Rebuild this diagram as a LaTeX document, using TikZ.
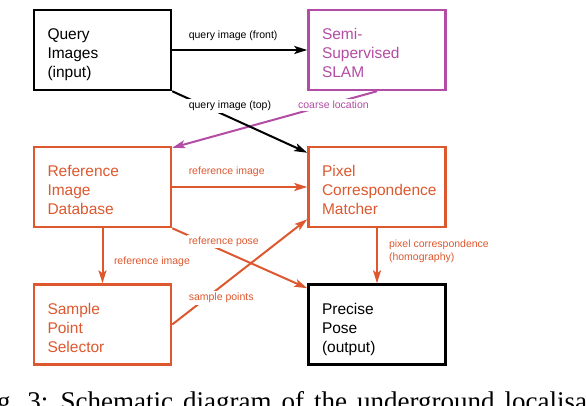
\documentclass[tikz,border=0pt]{standalone}
\usepackage{fontspec}
\setmainfont{Liberation Sans}
\newfontfamily\captionserif{Liberation Serif}
\usepackage{tikz}
\usetikzlibrary{shapes,arrows.meta,positioning}
\usepackage{xcolor}
\definecolor{orangecustom}{RGB}{221,88,46}
\definecolor{magentacustom}{RGB}{178,76,164}

\tikzset{
    blockbox/.style={draw=#1, text=#1, rectangle, line width=2.5pt, minimum width=137pt, minimum height=80pt,
        text width=110pt, inner xsep=13.5pt, align=left, font=\fontsize{15.5}{19}\selectfont,
        execute at begin node={\hyphenpenalty=10000\rule{0pt}{22pt}},
        execute at end node={\rule[-4pt]{0pt}{4pt}}},
    edgelabel/.style={text=#1, fill=white, inner sep=2pt, anchor=west, font=\fontsize{10.5}{13}\selectfont},
    flowarrow/.style={draw=#1, line width=2pt, -{Stealth[length=13pt,width=8pt,inset=3pt]}}
}

\begin{document}
\begin{tikzpicture}[x=1pt, y=1pt]
    \useasboundingbox (0,0) rectangle (586,406);
    \clip (0,0) rectangle (586,406);

    % blocks
    \node[blockbox=black] (query) at (102.5,356) {Query\\Images\\(input)};
    \node[blockbox=magentacustom, right=135pt of query] (slam) {Semi-\\Supervised\\SLAM};
    \node[blockbox=orangecustom, below=54.5pt of query] (refdb) {Reference\\Image\\Database};
    \node[blockbox=orangecustom, below=54.5pt of slam] (matcher) {Pixel\\Correspondence\\Matcher};
    \node[blockbox=orangecustom, below=55pt of refdb] (sampler) {Sample\\Point\\Selector};
    \node[blockbox=black, below=55pt of matcher] (pose) {Precise\\Pose\\(output)};

    % connectors
    \draw[flowarrow=black] (query.east) -- (slam.west)
        node[edgelabel=black, pos=0.1, yshift=14pt] {query image (front)};
    \draw[flowarrow=magentacustom] (slam.south) -- ([yshift=-2pt]refdb.north east)
        node[edgelabel=magentacustom, pos=0.4, yshift=9pt] {coarse location};
    \draw[flowarrow=black] (query.south east) -- ([yshift=-7pt]matcher.north west)
        node[edgelabel=black, pos=0.1, yshift=-8.6pt] {query image (top)};
    \draw[flowarrow=orangecustom] (refdb.east) -- (matcher.west)
        node[edgelabel=orangecustom, pos=0.1, yshift=15pt] {reference image};
    \draw[flowarrow=orangecustom] (refdb.south east) -- ([yshift=-5pt]pose.north west)
        node[edgelabel=orangecustom, pos=0.1, yshift=-7.3pt] {reference pose};
    \draw[flowarrow=orangecustom] (sampler.east) -- ([yshift=9pt]matcher.south west)
        node[edgelabel=orangecustom, pos=0.1, yshift=16pt] {sample points};
    \draw[flowarrow=orangecustom] (refdb.south) -- (sampler.north)
        node[edgelabel=orangecustom, midway, xshift=8.5pt, yshift=-6pt] {reference image};
    \draw[flowarrow=orangecustom] (matcher.south) -- (pose.north)
        node[edgelabel=orangecustom, midway, xshift=9pt, yshift=4pt, align=left] {pixel correspondence\\(homography)};

    % caption, cut by the page edges
    \node[anchor=base west, inner sep=0pt, font=\captionserif\fontsize{27}{30}\selectfont] (caption) at (-25.5,-5)
        {\spaceskip=10pt Fig.~3: Schematic diagram of the underground localisation};
\end{tikzpicture}
\end{document}
